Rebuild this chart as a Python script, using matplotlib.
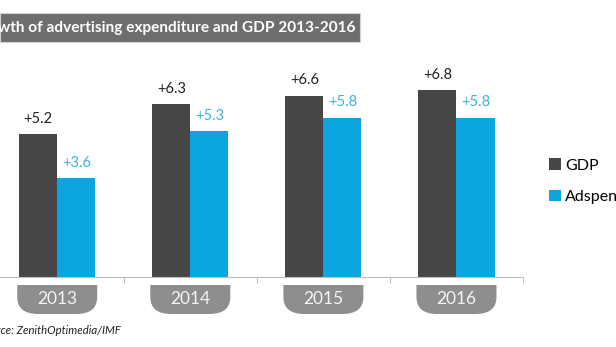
import matplotlib.pyplot as plt
import numpy as np
from matplotlib.path import Path
from matplotlib.patches import PathPatch, Rectangle, Patch

plt.rcParams['font.family'] = ['Lato', 'DejaVu Sans']

years = ['2013', '2014', '2015', '2016']
gdp = [5.2, 6.3, 6.6, 6.8]
adspend = [3.6, 5.3, 5.8, 5.8]
series_names = ['GDP', 'Adspend']
title = 'Growth of advertising expenditure and GDP 2013-2016'
source = 'Source: ZenithOptimedia/IMF'

gdp_color = '#464646'
ad_color = '#0ba5e2'
ad_text = '#3fb0dc'
tab_color = '#8e8e8e'

W, H = 616, 347
fig = plt.figure(figsize=(W / 100, H / 100), dpi=100)

# main axes: left at pixel 0, right at pixel 523, baseline at pixel 277
ax = fig.add_axes([0, 70 / H, 523 / W, 206 / H])
x = np.arange(len(years))
bw = 0.286
ax.bar(x - bw / 2, gdp, bw, color=gdp_color)
ax.bar(x + bw / 2, adspend, bw, color=ad_color)
ax.set_xlim(-0.43, 3.5)
ax.set_ylim(0, 7.5)

for xi, g, a in zip(x, gdp, adspend):
    ax.annotate(f'+{g}', (xi - bw / 2, g), xytext=(0, 6), textcoords='offset points',
                ha='center', va='bottom', fontsize=10.5, color='#222222')
    ax.annotate(f'+{a}', (xi + bw / 2, a), xytext=(0, 6), textcoords='offset points',
                ha='center', va='bottom', fontsize=10.5, color=ad_text)

for s in ['top', 'right', 'left']:
    ax.spines[s].set_visible(False)
ax.spines['bottom'].set_color('#bdbdbd')
ax.set_yticks([])
ax.set_xticks(x[:-1] + 0.5)
ax.set_xticks([3.5], minor=True)
ax.tick_params(axis='x', which='both', length=4, color='#bdbdbd', labelbottom=False)

# overlay in pixel coordinates for decorations
ov = fig.add_axes([0, 0, 1, 1])
ov.set_xlim(0, W)
ov.set_ylim(H, 0)
ov.axis('off')

def to_px(xd):
    disp = ax.transData.transform((xd, 0))
    return ov.transData.inverted().transform(disp)

# year tabs under the axis (square top, rounded bottom)
for xi, yr in zip(x, years):
    cx, base = to_px(xi)
    top, bot, hw, r = base + 8, base + 37, 40, 17
    verts = [(cx - hw, top), (cx + hw, top), (cx + hw, bot - r),
             (cx + hw, bot), (cx + hw - r - 4, bot),
             (cx - hw + r + 4, bot), (cx - hw, bot), (cx - hw, bot - r),
             (cx - hw, top)]
    codes = [Path.MOVETO, Path.LINETO, Path.LINETO, Path.CURVE3, Path.CURVE3,
             Path.LINETO, Path.CURVE3, Path.CURVE3, Path.CLOSEPOLY]
    ov.add_patch(PathPatch(Path(verts, codes), facecolor=tab_color, edgecolor='none'))
    ov.text(cx, (top + bot) / 2, yr, ha='center', va='center', fontsize=12.5,
            color='#f4f4f4')

# title bar
ov.add_patch(Rectangle((0, 13), 360, 29, facecolor='#6e6e6e', edgecolor='#d0d0d0', lw=0.8))
ov.text(355, 28, title, ha='right', va='center', fontsize=11.05, fontweight='bold',
        color='white')

# source note
ov.text(121, 330, source, ha='right', va='center', fontsize=8.2, style='italic',
        color='#222222')

# legend
handles = [Patch(facecolor=gdp_color), Patch(facecolor=ad_color)]
fig.legend(handles, series_names, loc='upper left', bbox_to_anchor=(543 / W, 1 - 152 / H),
           frameon=False, fontsize=11.5, handlelength=0.7, handleheight=0.7,
           handletextpad=0.3, labelspacing=1.1, borderaxespad=0)

fig.savefig('out.png', dpi=100)
